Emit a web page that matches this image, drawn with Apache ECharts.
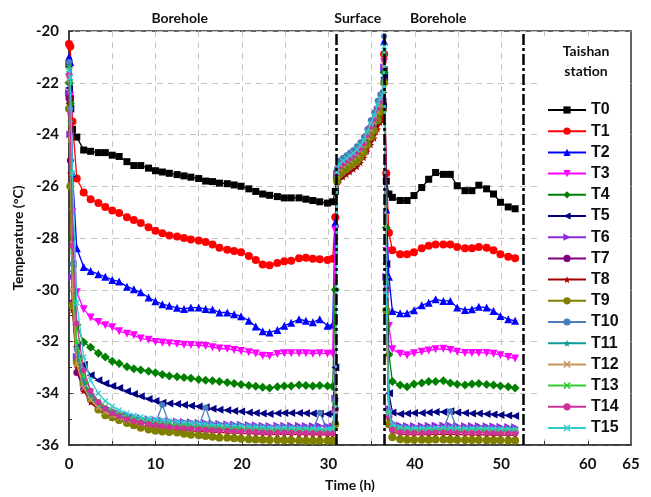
<!DOCTYPE html>
<html>
<head>
<meta charset="utf-8">
<script src="https://cdn.jsdelivr.net/npm/echarts@6/dist/echarts.min.js"></script>
<style>
  html, body { margin: 0; padding: 0; background: #fff; }
  #chart { width: 651px; height: 497px; }
</style>
</head>
<body>
<div id="chart"></div>
<script>
// Sampling times (h): borehole run, surface run, second borehole run
const hours = [
  0, 0.15, 0.4, 0.9, 1.7, 2.5, 3.4, 4.2, 5.0, 5.8, 6.7, 7.5, 8.3, 9.2, 10.0, 10.8, 11.6, 12.5, 13.3, 14.1,
  15.0, 15.8, 16.6, 17.4, 18.3, 19.1, 19.9, 20.8, 21.6, 22.4, 23.2, 24.1, 24.9, 25.7, 26.6, 27.4, 28.2, 29.0, 29.9, 30.5, 30.8,
  31.0, 31.3, 31.7, 32.1, 32.5, 32.9, 33.3, 33.7, 34.1, 34.5, 34.9, 35.3, 35.7, 36.0, 36.3, 36.45, 36.7, 37.0,
  37.4, 38.3, 39.1, 39.9, 40.8, 41.6, 42.4, 43.3, 44.1, 44.9, 45.8, 46.6, 47.4, 48.3, 49.1, 49.9, 50.8, 51.6
];

// Temperatures (°C) per sensor
const T0 = [
  -21.3, -22.6, -23.8, -24.1, -24.6, -24.65, -24.7, -24.7, -24.8, -24.85, -25.05, -25.2, -25.2, -25.3, -25.4, -25.45, -25.5, -25.55, -25.6, -25.65,
  -25.7, -25.8, -25.82, -25.88, -25.9, -25.95, -26.0, -26.1, -26.2, -26.3, -26.35, -26.4, -26.45, -26.45, -26.45, -26.5, -26.55, -26.6, -26.65, -26.6, -26.2,
  -25.5, -25.3, -25.2, -25.1, -25.0, -24.95, -24.85, -24.7, -24.5, -24.2, -23.9, -23.6, -23.2, -22.9, -22.8, -21.5, -25.8, -26.3,
  -26.43, -26.55, -26.55, -26.36, -26.05, -25.73, -25.47, -25.54, -25.54, -25.98, -26.17, -26.17, -25.96, -26.1, -26.3, -26.62, -26.8, -26.87
];
const T1 = [
  -20.5, -20.6, -23.5, -25.7, -26.24, -26.5, -26.65, -26.8, -26.94, -27.03, -27.2, -27.3, -27.42, -27.58, -27.72, -27.82, -27.9, -27.94, -28.0, -28.06,
  -28.1, -28.15, -28.25, -28.38, -28.45, -28.5, -28.55, -28.7, -28.85, -29.02, -29.05, -28.97, -28.9, -28.88, -28.78, -28.76, -28.8, -28.82, -28.85, -28.8, -27.2,
  -25.7, -25.5, -25.4, -25.3, -25.2, -25.1, -25.0, -24.85, -24.7, -24.4, -24.15, -23.9, -23.5, -23.2, -23.0, -20.9, -25.5, -27.8,
  -28.47, -28.63, -28.63, -28.55, -28.4, -28.3, -28.25, -28.25, -28.25, -28.35, -28.4, -28.4, -28.35, -28.38, -28.47, -28.63, -28.72, -28.78
];
const T2 = [
  -21.0, -21.2, -25.5, -28.4, -29.12, -29.28, -29.4, -29.5, -29.62, -29.68, -29.88, -29.98, -30.1, -30.3, -30.44, -30.56, -30.62, -30.7, -30.74, -30.69,
  -30.69, -30.74, -30.76, -30.88, -30.88, -30.95, -31.02, -31.2, -31.42, -31.6, -31.65, -31.56, -31.39, -31.28, -31.14, -31.2, -31.26, -31.14, -31.39, -31.35, -27.4,
  -25.4, -25.2, -25.05, -24.95, -24.85, -24.75, -24.6, -24.45, -24.25, -23.95, -23.6, -23.35, -22.9, -22.6, -22.5, -20.4, -26.9, -29.5,
  -30.82, -30.91, -30.91, -30.79, -30.6, -30.5, -30.37, -30.43, -30.43, -30.69, -30.78, -30.75, -30.66, -30.69, -30.82, -31.01, -31.14, -31.2
];
const T3 = [
  -21.8, -22.5, -27.0, -30.1, -30.75, -31.07, -31.25, -31.37, -31.45, -31.6, -31.7, -31.76, -31.88, -31.93, -32.02, -32.04, -32.07, -32.1, -32.13, -32.14,
  -32.15, -32.17, -32.22, -32.27, -32.28, -32.33, -32.37, -32.42, -32.46, -32.55, -32.56, -32.48, -32.45, -32.45, -32.45, -32.45, -32.47, -32.45, -32.47, -32.47, -27.7,
  -25.6, -25.35, -25.25, -25.15, -25.05, -24.95, -24.82, -24.65, -24.45, -24.15, -23.85, -23.55, -23.1, -22.85, -22.75, -21.2, -28.5, -31.4,
  -32.3, -32.47, -32.53, -32.45, -32.4, -32.35, -32.3, -32.28, -32.33, -32.4, -32.44, -32.44, -32.44, -32.44, -32.47, -32.53, -32.6, -32.66
];
const T4 = [
  -22.0, -22.8, -28.0, -31.35, -32.03, -32.22, -32.45, -32.6, -32.76, -32.85, -32.98, -33.05, -33.1, -33.15, -33.21, -33.28, -33.33, -33.36, -33.39, -33.42,
  -33.47, -33.5, -33.52, -33.55, -33.58, -33.62, -33.66, -33.7, -33.73, -33.77, -33.8, -33.75, -33.72, -33.72, -33.68, -33.7, -33.72, -33.7, -33.72, -33.74, -30.0,
  -25.65, -25.4, -25.28, -25.18, -25.08, -24.98, -24.88, -24.72, -24.5, -24.2, -23.9, -23.62, -23.2, -22.9, -22.85, -21.6, -27.6, -32.5,
  -33.55, -33.68, -33.75, -33.64, -33.6, -33.55, -33.55, -33.52, -33.6, -33.65, -33.68, -33.64, -33.62, -33.66, -33.68, -33.72, -33.75, -33.8
];
const T5 = [
  -22.2, -23.0, -29.0, -32.2, -32.9, -33.3, -33.5, -33.62, -33.72, -33.8, -33.92, -34.03, -34.12, -34.22, -34.3, -34.37, -34.4, -34.42, -34.45, -34.48,
  -34.51, -34.54, -34.6, -34.64, -34.66, -34.69, -34.71, -34.74, -34.76, -34.78, -34.8, -34.77, -34.76, -34.76, -34.76, -34.77, -34.78, -34.79, -34.8, -34.8, -33.0,
  -25.75, -25.45, -25.32, -25.22, -25.12, -25.02, -24.92, -24.78, -24.58, -24.28, -24.0, -23.7, -23.3, -23.0, -22.9, -21.8, -29.0, -34.0,
  -34.74, -34.8, -34.78, -34.76, -34.76, -34.74, -34.72, -34.72, -34.7, -34.74, -34.76, -34.78, -34.78, -34.8, -34.82, -34.84, -34.86, -34.88
];
const T6 = [
  -22.4, -24.0, -29.5, -32.6, -33.6, -34.05, -34.35, -34.55, -34.68, -34.78, -34.86, -34.92, -34.96, -35.0, -35.03, -35.05, -35.07, -35.09, -35.11, -35.12,
  -35.14, -35.15, -35.17, -35.18, -35.2, -35.21, -35.22, -35.23, -35.24, -35.26, -35.27, -35.26, -35.26, -35.26, -35.26, -35.27, -35.27, -35.27, -35.28, -35.28, -34.2,
  -25.7, -25.4, -25.25, -25.12, -25.02, -24.92, -24.8, -24.62, -24.42, -24.1, -23.8, -23.5, -23.05, -22.8, -22.7, -21.4, -29.5, -34.6,
  -35.15, -35.25, -35.27, -35.27, -35.27, -35.26, -35.25, -35.25, -35.25, -35.26, -35.27, -35.27, -35.27, -35.28, -35.28, -35.29, -35.3, -35.31
];
const T7 = [
  -22.6, -25.0, -30.5, -33.2, -33.85, -34.25, -34.55, -34.72, -34.85, -34.95, -35.03, -35.09, -35.14, -35.18, -35.22, -35.25, -35.28, -35.3, -35.32, -35.34,
  -35.36, -35.37, -35.39, -35.4, -35.42, -35.43, -35.44, -35.45, -35.46, -35.48, -35.49, -35.48, -35.48, -35.48, -35.49, -35.49, -35.5, -35.5, -35.5, -35.5, -34.6,
  -25.75, -25.5, -25.35, -25.25, -25.15, -25.05, -24.95, -24.8, -24.6, -24.3, -24.0, -23.75, -23.35, -23.05, -22.95, -21.9, -30.0, -34.9,
  -35.35, -35.45, -35.48, -35.48, -35.48, -35.47, -35.46, -35.46, -35.46, -35.47, -35.48, -35.48, -35.48, -35.49, -35.49, -35.5, -35.5, -35.51
];
const T8 = [
  -22.8, -25.5, -30.8, -33.0, -33.9, -34.35, -34.65, -34.82, -34.95, -35.05, -35.13, -35.2, -35.25, -35.29, -35.33, -35.36, -35.39, -35.41, -35.43, -35.45,
  -35.47, -35.48, -35.5, -35.51, -35.53, -35.54, -35.55, -35.56, -35.57, -35.59, -35.6, -35.59, -35.59, -35.59, -35.6, -35.6, -35.6, -35.61, -35.61, -35.61, -34.8,
  -25.95, -25.75, -25.65, -25.55, -25.45, -25.35, -25.25, -25.1, -24.9, -24.65, -24.4, -24.15, -23.8, -23.55, -23.45, -22.4, -30.4, -35.0,
  -35.5, -35.58, -35.6, -35.6, -35.6, -35.6, -35.59, -35.59, -35.59, -35.6, -35.6, -35.61, -35.61, -35.61, -35.62, -35.62, -35.62, -35.63
];
const T9 = [
  -23.0, -26.0, -30.6, -32.8, -33.6, -34.2, -34.63, -34.85, -34.93, -35.03, -35.15, -35.24, -35.33, -35.4, -35.45, -35.48, -35.5, -35.52, -35.57, -35.6,
  -35.62, -35.65, -35.68, -35.72, -35.72, -35.74, -35.76, -35.78, -35.79, -35.8, -35.81, -35.81, -35.82, -35.82, -35.83, -35.84, -35.84, -35.84, -35.84, -35.84, -35.2,
  -25.8, -25.55, -25.42, -25.32, -25.22, -25.12, -25.02, -24.88, -24.68, -24.4, -24.1, -23.85, -23.45, -23.15, -23.05, -22.0, -30.8, -35.2,
  -35.7, -35.78, -35.8, -35.8, -35.8, -35.8, -35.79, -35.79, -35.8, -35.8, -35.81, -35.81, -35.81, -35.82, -35.82, -35.82, -35.83, -35.83
];
const T10 = [
  -21.2, -23.0, -29.0, -32.3, -33.5, -34.05, -34.4, -34.6, -34.75, -34.86, -34.95, -35.02, -35.07, -35.11, -35.15, -34.45, -35.2, -35.22, -35.24, -35.26,
  -35.28, -34.55, -35.31, -35.32, -35.34, -35.35, -35.36, -35.37, -35.38, -35.4, -35.41, -35.4, -35.4, -35.4, -35.41, -35.41, -35.42, -34.75, -35.42, -35.42, -34.3,
  -25.3, -25.0, -24.9, -24.8, -24.7, -24.6, -24.45, -24.3, -24.1, -23.8, -23.45, -23.15, -22.7, -22.45, -22.35, -20.2, -29.8, -34.7,
  -35.3, -35.38, -35.4, -35.4, -35.4, -35.39, -35.38, -35.38, -34.7, -35.39, -35.4, -35.4, -35.4, -35.41, -35.41, -35.42, -35.42, -35.43
];
const T11 = [
  -21.6, -23.5, -29.3, -32.5, -33.6, -34.12, -34.45, -34.65, -34.8, -34.9, -34.99, -35.06, -35.11, -35.15, -35.19, -35.22, -35.25, -35.27, -35.29, -35.31,
  -35.33, -35.34, -35.36, -35.37, -35.39, -35.4, -35.41, -35.42, -35.43, -35.45, -35.46, -35.45, -35.45, -35.45, -35.46, -35.46, -35.47, -35.47, -35.47, -35.47, -34.5,
  -25.5, -25.22, -25.1, -25.0, -24.9, -24.8, -24.68, -24.52, -24.32, -24.0, -23.68, -23.4, -22.95, -22.7, -22.6, -20.8, -30.0, -34.8,
  -35.35, -35.42, -35.44, -35.44, -35.44, -35.43, -35.42, -35.42, -35.42, -35.43, -35.44, -35.44, -35.44, -35.45, -35.45, -35.46, -35.46, -35.47
];
const T12 = [
  -21.9, -24.2, -30.0, -32.9, -33.8, -34.25, -34.55, -34.73, -34.86, -34.96, -35.04, -35.1, -35.15, -35.19, -35.23, -35.26, -35.29, -35.31, -35.33, -35.35,
  -35.37, -35.38, -35.4, -35.41, -35.43, -35.44, -35.45, -35.46, -35.47, -35.49, -35.5, -35.49, -35.49, -35.49, -35.5, -35.5, -35.51, -35.51, -35.51, -35.52, -34.7,
  -25.6, -25.32, -25.2, -25.1, -25.0, -24.9, -24.78, -24.62, -24.42, -24.12, -23.82, -23.55, -23.1, -22.85, -22.75, -21.3, -30.2, -34.9,
  -35.4, -35.47, -35.49, -35.49, -35.49, -35.48, -35.47, -35.47, -35.47, -35.48, -35.49, -35.49, -35.49, -35.5, -35.5, -35.51, -35.51, -35.52
];
const T13 = [
  -21.4, -22.0, -28.5, -32.0, -33.3, -33.9, -34.3, -34.52, -34.68, -34.8, -34.9, -34.98, -35.04, -35.09, -35.13, -35.17, -35.2, -35.22, -35.24, -35.26,
  -35.28, -35.3, -35.32, -35.33, -35.35, -35.36, -35.37, -35.38, -35.39, -35.41, -35.42, -35.41, -35.41, -35.41, -35.42, -35.42, -35.43, -35.43, -35.43, -35.44, -34.4,
  -25.55, -25.28, -25.15, -25.05, -24.95, -24.85, -24.72, -24.56, -24.36, -24.05, -23.72, -23.45, -23.0, -22.75, -22.65, -21.0, -29.6, -34.8,
  -35.35, -35.4, -35.42, -35.42, -35.42, -35.41, -35.4, -35.4, -35.4, -35.41, -35.42, -35.42, -35.42, -35.43, -35.43, -35.44, -35.44, -35.45
];
const T14 = [
  -21.7, -23.2, -28.3, -31.3, -33.1, -33.9, -34.35, -34.6, -34.78, -34.9, -35.0, -35.08, -35.14, -35.19, -35.23, -35.27, -35.3, -35.33, -35.35, -35.37,
  -35.39, -35.41, -35.42, -35.44, -35.45, -35.47, -35.48, -35.49, -35.5, -35.52, -35.53, -35.52, -35.52, -35.52, -35.53, -35.53, -35.54, -35.54, -35.54, -35.55, -34.7,
  -25.5, -25.25, -25.12, -25.02, -24.92, -24.82, -24.7, -24.54, -24.34, -24.02, -23.7, -23.42, -22.98, -22.72, -22.62, -21.1, -30.1, -34.9,
  -35.42, -35.5, -35.52, -35.52, -35.52, -35.51, -35.5, -35.5, -35.5, -35.51, -35.52, -35.52, -35.52, -35.53, -35.53, -35.54, -35.54, -35.55
];
const T15 = [
  -21.5, -21.8, -25.5, -30.5, -32.6, -33.5, -34.0, -34.3, -34.5, -34.65, -34.77, -34.86, -34.92, -34.97, -35.01, -35.04, -35.07, -35.1, -35.12, -35.14,
  -35.16, -35.18, -35.2, -35.21, -35.23, -35.24, -35.25, -35.27, -35.28, -35.3, -35.31, -35.31, -35.31, -35.32, -35.33, -35.34, -35.35, -35.36, -35.37, -35.37, -34.8,
  -25.45, -25.15, -25.02, -24.92, -24.82, -24.72, -24.58, -24.42, -24.22, -23.9, -23.58, -23.28, -22.85, -22.6, -22.5, -20.6, -30.2, -34.76,
  -35.2, -35.3, -35.33, -35.34, -35.34, -35.34, -35.33, -35.33, -35.33, -35.34, -35.35, -35.35, -35.35, -35.36, -35.36, -35.37, -35.37, -35.38
];

const sensorNames = ['T0', 'T1', 'T2', 'T3', 'T4', 'T5', 'T6', 'T7', 'T8', 'T9', 'T10', 'T11', 'T12', 'T13', 'T14', 'T15'];
const sensorValues = [T0, T1, T2, T3, T4, T5, T6, T7, T8, T9, T10, T11, T12, T13, T14, T15];

// Phase boundaries (h) and phase captions
const phaseBounds = [30.9, 36.5, 52.5];
const phaseCaptions = [
  { text: 'Borehole', at: 12.8 },
  { text: 'Surface', at: 33.4 },
  { text: 'Borehole', at: 42.7 }
];

const xLabelValues = [0, 10, 20, 30, 40, 50, 60, 65];
const xTickValues = [5, 10, 15, 20, 25, 30, 35, 40, 45, 50, 55, 60];

// Marker shapes
const STAR = 'path://M5,0 L6.2,3.6 L10,3.6 L7,5.9 L8.1,9.5 L5,7.3 L1.9,9.5 L3,5.9 L0,3.6 L3.8,3.6 Z';
const CROSS = 'path://M1.5,0 L5,3.5 L8.5,0 L10,1.5 L6.5,5 L10,8.5 L8.5,10 L5,6.5 L1.5,10 L0,8.5 L3.5,5 L0,1.5 Z';

const styles = [
  { color: '#000000', symbol: 'rect', rotate: 0, size: 7 },
  { color: '#ff0000', symbol: 'circle', rotate: 0, size: 8 },
  { color: '#0000ff', symbol: 'triangle', rotate: 0, size: 8 },
  { color: '#ff00ff', symbol: 'triangle', rotate: 180, size: 8 },
  { color: '#008000', symbol: 'diamond', rotate: 0, size: 9 },
  { color: '#000080', symbol: 'triangle', rotate: 90, size: 8 },
  { color: '#8a2be2', symbol: 'triangle', rotate: -90, size: 8 },
  { color: '#800080', symbol: 'circle', rotate: 0, size: 7 },
  { color: '#a00000', symbol: STAR, rotate: 0, size: 7 },
  { color: '#808000', symbol: 'circle', rotate: 0, size: 8 },
  { color: '#4a7ebb', symbol: 'circle', rotate: 0, size: 6 },
  { color: '#0a9a9a', symbol: STAR, rotate: 0, size: 7 },
  { color: '#c8955a', symbol: CROSS, rotate: 0, size: 6 },
  { color: '#33cc33', symbol: CROSS, rotate: 0, size: 6 },
  { color: '#cc3399', symbol: 'circle', rotate: 0, size: 6 },
  { color: '#33cccc', symbol: CROSS, rotate: 0, size: 6 }
];

const axisFont = 'Lato, "Open Sans", sans-serif';

const series = sensorNames.map((name, k) => ({
  name: name,
  type: 'line',
  data: hours.map((h, i) => [h, sensorValues[k][i]]),
  symbol: styles[k].symbol,
  symbolRotate: styles[k].rotate,
  symbolSize: styles[k].size,
  showAllSymbol: true,
  lineStyle: { color: styles[k].color, width: 1.3 },
  itemStyle: { color: styles[k].color },
  emphasis: { disabled: true },
  z: 2 + k * 0.01
}));

// Dash-dot boundaries between phases
series.push({
  name: 'phases',
  type: 'line',
  data: [],
  silent: true,
  markLine: {
    silent: true,
    symbol: 'none',
    label: { show: false },
    lineStyle: { color: '#000', width: 2.5, type: [11, 3, 3, 3] },
    data: phaseBounds.map(v => ({ xAxis: v }))
  }
});

const chart = echarts.init(document.getElementById('chart'), null, { renderer: 'canvas' });

chart.setOption({
  animation: false,
  backgroundColor: '#fff',
  grid: {
    left: 69, right: 20, top: 31, bottom: 48,
    show: true, borderColor: '#333', borderWidth: 1.5, backgroundColor: 'transparent'
  },
  xAxis: {
    type: 'value', min: 0, max: 65, interval: 10,
    name: 'Time (h)', nameLocation: 'middle', nameGap: 33,
    nameTextStyle: { fontFamily: axisFont, fontWeight: 'bold', fontSize: 14, color: '#111' },
    axisLine: { lineStyle: { color: '#333', width: 1.5 } },
    axisTick: { show: true, inside: true, length: 4, customValues: xTickValues, lineStyle: { color: '#333' } },
    axisLabel: { customValues: xLabelValues, margin: 12, fontFamily: axisFont, fontWeight: 'bold', fontSize: 15, color: '#111' },
    splitLine: { show: true, lineStyle: { color: '#c4c4c4', width: 1, type: [6, 5] } }
  },
  yAxis: {
    type: 'value', min: -36, max: -20, interval: 2,
    name: 'Temperature (°C)', nameLocation: 'middle', nameGap: 44,
    nameTextStyle: { fontFamily: axisFont, fontWeight: 'bold', fontSize: 14, color: '#111' },
    axisLine: { show: true, lineStyle: { color: '#333', width: 1.5 } },
    axisTick: { show: true, inside: true, length: 4, lineStyle: { color: '#333' } },
    minorTick: { show: true, splitNumber: 2, length: 3, lineStyle: { color: '#333' } },
    axisLabel: { margin: 10, fontFamily: axisFont, fontWeight: 'bold', fontSize: 15, color: '#111' },
    splitLine: { show: true, lineStyle: { color: '#c4c4c4', width: 1, type: [6, 5] } }
  },
  legend: {
    data: sensorNames,
    orient: 'vertical',
    left: 547, top: 102,
    padding: 0,
    itemWidth: 38, itemHeight: 9, itemGap: 5.2,
    textStyle: { fontFamily: '"Liberation Sans", Arial, sans-serif', fontWeight: 'bold', fontSize: 16, color: '#111', lineHeight: 16 },
    z: 6
  },
  series: series
});

// Legend panel background, panel heading and phase captions
const captionGraphics = phaseCaptions.map(c => ({
  type: 'text',
  x: chart.convertToPixel({ xAxisIndex: 0 }, c.at),
  y: 18,
  z: 10,
  style: {
    text: c.text, textAlign: 'center', textVerticalAlign: 'middle',
    font: 'bold 14px ' + axisFont, fill: '#111'
  }
}));

chart.setOption({
  graphic: [
    { type: 'rect', shape: { x: 541, y: 36, width: 86, height: 403 }, style: { fill: '#fff' }, z: 5, silent: true },
    {
      type: 'text', x: 586, y: 61, z: 10,
      style: {
        text: 'Taishan\nstation', textAlign: 'center', textVerticalAlign: 'middle',
        font: 'bold 14px ' + axisFont, fill: '#111', lineHeight: 20
      }
    }
  ].concat(captionGraphics)
});
</script>
</body>
</html>
